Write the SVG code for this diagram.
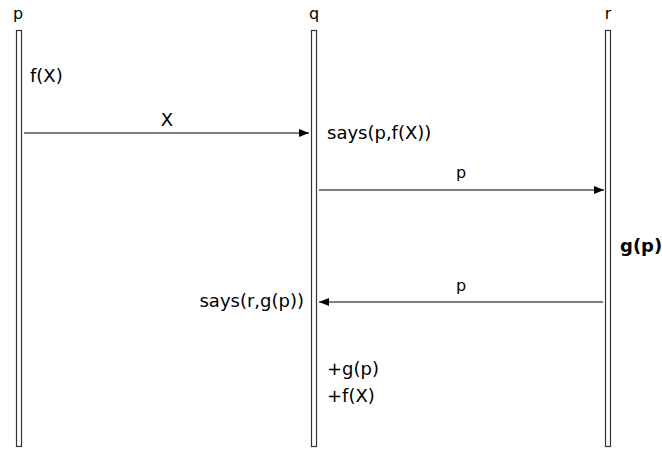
<svg xmlns="http://www.w3.org/2000/svg" width="662" height="451" viewBox="0 0 662 451">
<style>
.life{fill:#fff;stroke:#333;stroke-width:1.2}
.t{font-family:"DejaVu Sans",sans-serif;font-size:18px;fill:#000}
.h{font-family:"DejaVu Sans",sans-serif;font-size:16px;fill:#000}
.msg{stroke:#000;stroke-width:1.2;fill:none}
</style>
<defs>
<marker id="ah" markerWidth="10" markerHeight="8" refX="10" refY="4" orient="auto" markerUnits="userSpaceOnUse">
<path d="M0,0 L10,4 L0,8 Z" fill="#000"/>
</marker>
</defs>
<rect width="662" height="451" fill="#fff"/>
<g id="p">
<rect class="life" x="16.5" y="30.5" width="5" height="416"/>
<text class="h" x="18" y="19" text-anchor="middle">p</text>
<text class="t" x="30" y="82">f(X)</text>
</g>
<g id="q">
<rect class="life" x="311.5" y="30.5" width="5" height="416"/>
<text class="h" x="314" y="19" text-anchor="middle">q</text>
<text class="t" x="327" y="139">says(p,f(X))</text>
<text class="t" x="304" y="307" text-anchor="end">says(r,g(p))</text>
<text class="t" x="327" y="375">+g(p)</text>
<text class="t" x="327" y="402">+f(X)</text>
</g>
<g id="r">
<rect class="life" x="605.5" y="30.5" width="5" height="416"/>
<text class="h" x="608" y="19" text-anchor="middle">r</text>
<text class="t" x="620" y="252" font-weight="bold">g(p)</text>
</g>
<g id="connectors">
<line class="msg" x1="24" y1="133" x2="309" y2="133" marker-end="url(#ah)"/>
<text class="t" x="167" y="126" text-anchor="middle">X</text>
<line class="msg" x1="319" y1="190" x2="604" y2="190" marker-end="url(#ah)"/>
<text class="h" x="461" y="178" text-anchor="middle">p</text>
<line class="msg" x1="603" y1="302" x2="319" y2="302" marker-end="url(#ah)"/>
<text class="h" x="461" y="291" text-anchor="middle">p</text>
</g>
</svg>
